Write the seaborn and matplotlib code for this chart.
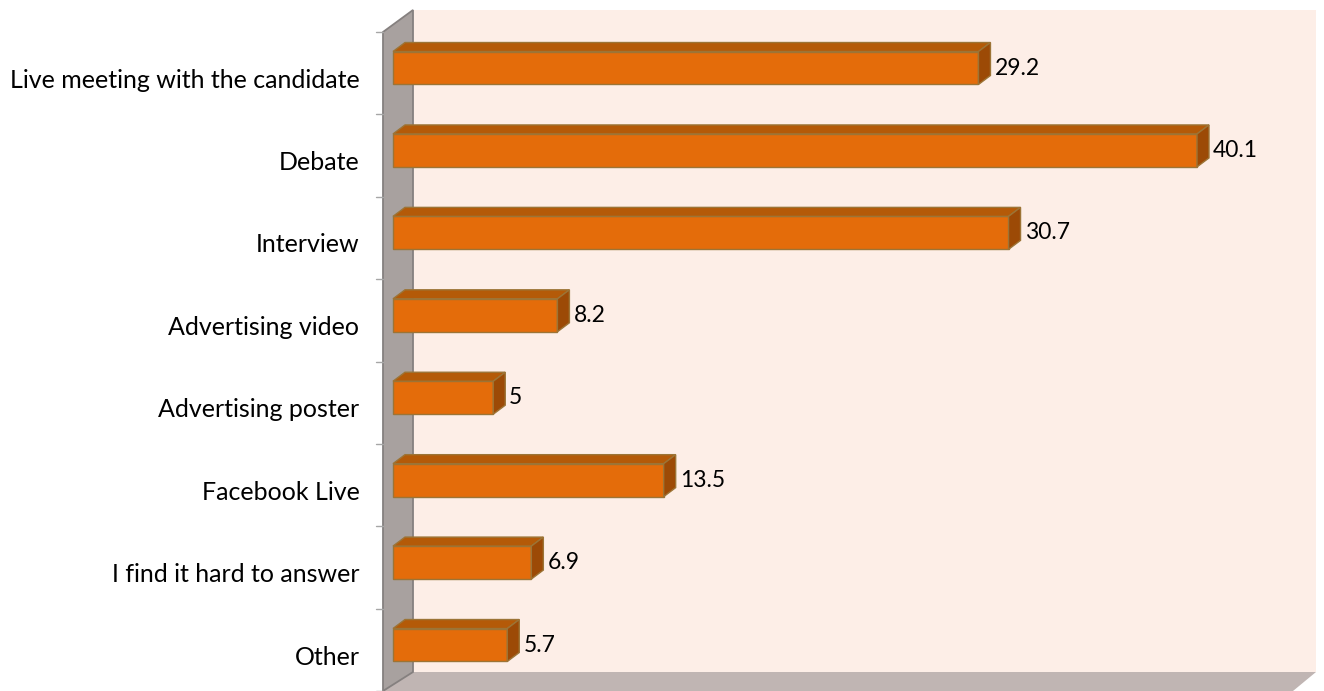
import matplotlib
matplotlib.use("Agg")
import matplotlib.pyplot as plt
from matplotlib.patches import Polygon
from matplotlib.transforms import ScaledTranslation
import seaborn as sns
import pandas as pd

categories = [
    "Live meeting with the candidate",
    "Debate",
    "Interview",
    "Advertising video",
    "Advertising poster",
    "Facebook Live",
    "I find it hard to answer",
    "Other",
]
values = [29.2, 40.1, 30.7, 8.2, 5.0, 13.5, 6.9, 5.7]
value_labels = ["29.2", "40.1", "30.7", "8.2", "5", "13.5", "6.9", "5.7"]

sns.set_theme(style="white")
plt.rcParams["font.family"] = ["Lato", "DejaVu Sans"]

W, H, DPI = 1324, 691, 100
fig = plt.figure(figsize=(W / DPI, H / DPI), dpi=DPI)
fig.patch.set_facecolor("white")

# axes box covers the whole 3D frame (pixel extents)
left_px, right_px, top_px, bot_px = 383, 1316, 10, 691
ax = fig.add_axes([left_px / W, 1 - bot_px / H, (right_px - left_px) / W, (bot_px - top_px) / H])
ax.set_facecolor("none")

df = pd.DataFrame({"category": categories, "value": values})
sns.barplot(data=df, x="value", y="category", orient="h", width=0.4,
            color="#E46C0A", saturation=1, edgecolor="#9C7436", linewidth=1.0,
            ax=ax, zorder=3)

# scale: value 0 at x=393 px, 20.05 px per unit; category 0 at y=68 px, 82.43 px per category
px_per_x = 20.05
px_per_y = 82.43
x0_px, y0_px = 393, 68
ax.set_xlim((left_px - x0_px) / px_per_x, (right_px - x0_px) / px_per_x)
ax.set_ylim((bot_px - y0_px) / px_per_y, (top_px - y0_px) / px_per_y)

def dx(px):
    return px / px_per_x

def dy(px):
    return px / px_per_y

# 3D frame: back wall, left wall, floor
xf = (left_px - x0_px) / px_per_x          # front plane of left wall
xb = (413 - x0_px) / px_per_x              # back plane of left wall
y_top_f, y_top_b = dy(32 - y0_px), dy(top_px - y0_px)
y_bot_f, y_bot_b = dy(bot_px - y0_px), dy(672 - y0_px)
x_right_b = (right_px - x0_px) / px_per_x
x_right_f = (1293 - x0_px) / px_per_x

back = Polygon([(xb, y_top_b), (x_right_b, y_top_b), (x_right_b, y_bot_b), (xb, y_bot_b)],
               closed=True, facecolor="#FDEEE7", edgecolor="none", zorder=0)
wall = Polygon([(xf, y_top_f), (xb, y_top_b), (xb, y_bot_b), (xf, y_bot_f)],
               closed=True, facecolor="#A8A19F", edgecolor="#85807F", linewidth=1.3, zorder=1)
floor = Polygon([(xf, y_bot_f), (xb, y_bot_b), (x_right_b, y_bot_b), (x_right_f, y_bot_f)],
                closed=True, facecolor="#C0B5B3", edgecolor="none", zorder=1)
for p in (back, floor, wall):
    p.set_clip_on(False)
    ax.add_patch(p)

# tick marks on the wall's front edge at category boundaries
tick_len = dx(7)
for k in range(len(categories) + 1):
    yk = y_top_f + k * (y_bot_f - y_top_f) / len(categories)
    ax.plot([xf - tick_len, xf], [yk, yk], color="#A6A6A6", linewidth=1.0,
            clip_on=False, zorder=2)

# depth faces of each bar
ddx, ddy = dx(12), -dy(9)
half = 0.2
for i, v in enumerate(values):
    top = i - half
    bottom = i + half
    top_face = Polygon([(0, top), (v, top), (v + ddx, top + ddy), (0 + ddx, top + ddy)],
                       closed=True, facecolor="#B45A08", edgecolor="#9C7436",
                       linewidth=1.0, zorder=4)
    side_face = Polygon([(v, top), (v + ddx, top + ddy), (v + ddx, bottom + ddy), (v, bottom)],
                        closed=True, facecolor="#9C4A06", edgecolor="#9C7436",
                        linewidth=1.0, zorder=4)
    ax.add_patch(top_face)
    ax.add_patch(side_face)
    ax.text(v + ddx + dx(4), i, value_labels[i], ha="left", va="center",
            fontsize=16.5, color="black", zorder=5)

for s in ax.spines.values():
    s.set_visible(False)
ax.set_xticks([])
ax.set_xlabel("")
ax.set_ylabel("")
ax.tick_params(axis="y", length=0, pad=17, labelsize=18, labelcolor="black")
shift = ScaledTranslation(0, -10 / DPI, fig.dpi_scale_trans)
for lab in ax.get_yticklabels():
    lab.set_transform(lab.get_transform() + shift)

fig.savefig("out.png", dpi=DPI)
